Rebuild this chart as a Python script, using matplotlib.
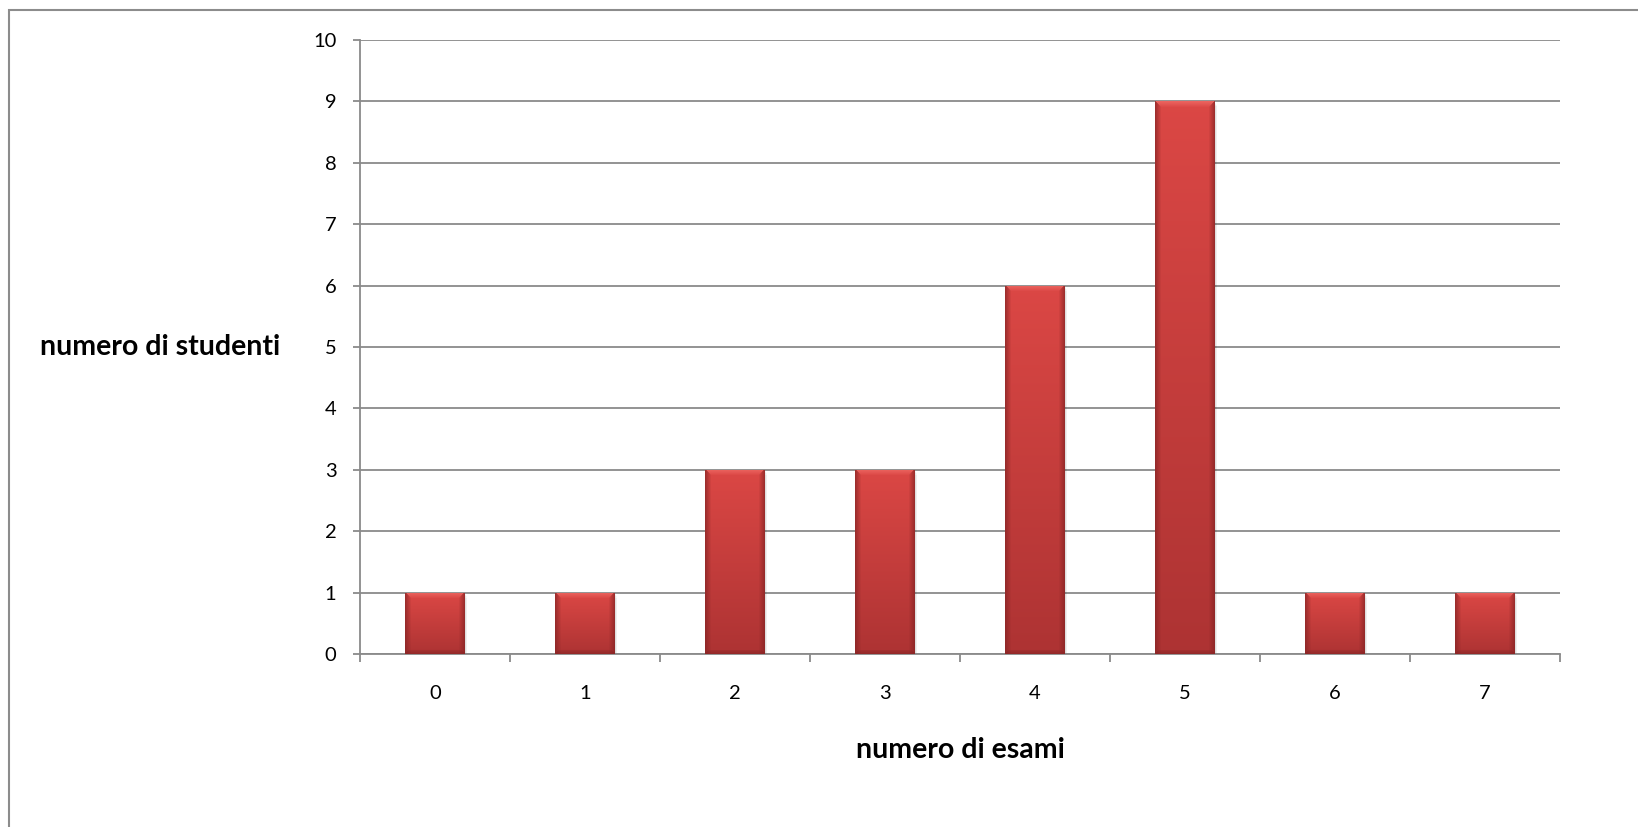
import numpy as np
import matplotlib
matplotlib.use("Agg")
import matplotlib.pyplot as plt
from matplotlib.patches import Rectangle

# dati
esami = [0, 1, 2, 3, 4, 5, 6, 7]
studenti = [1, 1, 3, 3, 6, 9, 1, 1]
y_ticks = list(range(0, 11))

plt.rcParams['font.family'] = ['Lato', 'DejaVu Sans']

W, H = 1638, 827
fig = plt.figure(figsize=(W / 100, H / 100), dpi=100)
ax = fig.add_axes([360 / W, 1 - 654 / H, 1200 / W, 614 / H])

grid_col = '#8a8a8a'
ax.set_xlim(-0.5, len(esami) - 0.5)
ax.set_ylim(0, 10)
ax.set_yticks(y_ticks)
ax.set_xticks(esami)
ax.set_xticks(np.arange(-0.5, len(esami), 1.0), minor=True)
ax.yaxis.grid(True, color=grid_col, linewidth=1.3)
ax.set_axisbelow(True)
for s in ['top', 'right']:
    ax.spines[s].set_visible(False)
for s in ['left', 'bottom']:
    ax.spines[s].set_color(grid_col)
    ax.spines[s].set_linewidth(1.3)
ax.tick_params(axis='x', which='major', length=0, pad=22, labelsize=14.5)
ax.tick_params(axis='x', which='minor', length=6, width=1.3, color=grid_col)
ax.tick_params(axis='y', length=5, width=1.3, color=grid_col, pad=12, labelsize=14.5)

bars = ax.bar(esami, studenti, width=0.4, color='none', edgecolor='none', zorder=3)

# effetto rilievo tipo Excel
fig.canvas.draw()
top_c = np.array([0.86, 0.28, 0.27])
bot_c = np.array([0.68, 0.20, 0.20])
light = np.array([0.94, 0.42, 0.40])
dark = np.array([0.52, 0.14, 0.14])
for b in bars:
    x0, y0 = b.get_x(), b.get_y()
    bw, bh = b.get_width(), b.get_height()
    p0 = ax.transData.transform((x0, y0))
    p1 = ax.transData.transform((x0 + bw, y0 + bh))
    pw = int(round(p1[0] - p0[0]))
    ph = int(round(p1[1] - p0[1]))
    t = np.linspace(0, 1, ph)[:, None, None]
    img = top_c * (1 - t) + bot_c * t
    img = np.repeat(img, pw, axis=1)
    bev = 6
    for i in range(bev):
        f = (bev - i) / bev
        img[i, i:pw - i] = img[i, i:pw - i] * (1 - 0.8 * f) + light * 0.8 * f
        img[i:, i] = img[i:, i] * (1 - 0.7 * f) + dark * 0.7 * f
        img[i:, pw - 1 - i] = img[i:, pw - 1 - i] * (1 - 0.7 * f) + dark * 0.7 * f
        if i < 4:
            img[ph - 1 - i, i:pw - i] = img[ph - 1 - i, i:pw - i] * (1 - 0.6 * f) + dark * 0.6 * f
    # ombra
    for k in range(1, 5):
        ax.add_patch(Rectangle((x0 + 0.004 * k, y0), bw, bh - 0.02 * k,
                               facecolor='black', alpha=0.03, edgecolor='none', zorder=2))
    im = ax.imshow(img, extent=(x0, x0 + bw, y0, y0 + bh), aspect='auto',
                   interpolation='bilinear', zorder=3)
    im.set_clip_path(b)

ax.set_xlim(-0.5, len(esami) - 0.5)
ax.set_ylim(0, 10)

fig.text(160 / W, 1 - 347 / H, 'numero di studenti', ha='center', va='center',
         fontsize=20.5, fontweight='bold')
fig.text(960 / W, 1 - 750 / H, 'numero di esami', ha='center', va='center',
         fontsize=20.5, fontweight='bold')

# cornice del grafico
fig.add_artist(Rectangle((8.6 / W, -0.1), 1.2, 1.1 - 10.5 / H, transform=fig.transFigure,
                         facecolor='none', edgecolor='#8c8c8c', linewidth=1.5))

fig.savefig('out.png', dpi=100)
